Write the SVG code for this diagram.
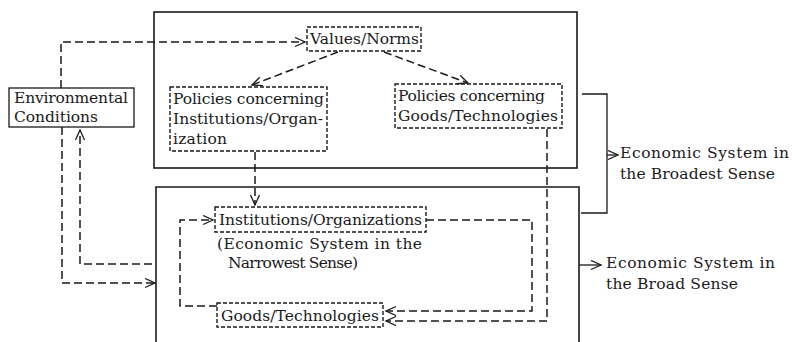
<svg xmlns="http://www.w3.org/2000/svg" width="792" height="342" viewBox="0 0 792 342">
  <style>
    text { font-family: "DejaVu Serif", "Liberation Serif", serif; font-size: 15.5px; fill: #1a1a1a; }
    .frame { fill: none; stroke: #1a1a1a; stroke-width: 1.6; }
    .solid { fill: none; stroke: #1a1a1a; stroke-width: 1.3; }
    .dbox { fill: none; stroke: #1a1a1a; stroke-width: 1.4; stroke-dasharray: 4 2; }
    .flow { fill: none; stroke: #1a1a1a; stroke-width: 1.5; stroke-dasharray: 8 4; }
  </style>
  <defs>
    <marker id="chev" markerUnits="userSpaceOnUse" markerWidth="14" markerHeight="12" refX="11" refY="5" orient="auto" viewBox="0 0 14 12">
      <path d="M1,0.5 L11,5 L1,9.5" fill="none" stroke="#1a1a1a" stroke-width="1.3"/>
    </marker>
  </defs>

  <!-- outer frames: broadest and broad economic system -->
  <g id="frame-broadest">
    <rect class="frame" x="154" y="12" width="423" height="156"/>
  </g>
  <g id="frame-broad">
    <path class="frame" d="M156,346 V187 H579 V346"/>
  </g>

  <!-- nodes -->
  <g id="environmental-conditions">
    <rect class="solid" x="9" y="88" width="125" height="39"/>
    <text x="14" y="103" textLength="114" lengthAdjust="spacing">Environmental</text>
    <text x="14" y="122" textLength="84" lengthAdjust="spacing">Conditions</text>
  </g>

  <g id="values-norms">
    <rect class="dbox" x="307" y="27" width="114" height="24"/>
    <text x="310" y="44" textLength="109" lengthAdjust="spacing">Values/Norms</text>
  </g>

  <g id="policies-institutions">
    <rect class="dbox" x="170" y="87" width="157" height="64"/>
    <text x="173" y="104" textLength="151" lengthAdjust="spacing">Policies concerning</text>
    <text x="173" y="124" textLength="150" lengthAdjust="spacing">Institutions/Organ-</text>
    <text x="173" y="144" textLength="54" lengthAdjust="spacing">ization</text>
  </g>

  <g id="policies-goods">
    <rect class="dbox" x="395" y="84" width="167" height="44"/>
    <text x="398" y="101" textLength="147" lengthAdjust="spacing">Policies concerning</text>
    <text x="398" y="121" textLength="160" lengthAdjust="spacing">Goods/Technologies</text>
  </g>

  <g id="institutions-organizations">
    <rect class="dbox" x="215" y="207" width="211" height="25"/>
    <text x="219" y="225" textLength="203" lengthAdjust="spacing">Institutions/Organizations</text>
    <text x="217" y="249" textLength="205" lengthAdjust="spacing">(Economic System in the</text>
    <text x="228" y="268" textLength="130" lengthAdjust="spacing">Narrowest Sense)</text>
  </g>

  <g id="goods-technologies">
    <rect class="dbox" x="217" y="303" width="166" height="24"/>
    <text x="221" y="321" textLength="158" lengthAdjust="spacing">Goods/Technologies</text>
  </g>

  <g id="label-broadest">
    <text x="620" y="158" textLength="169" lengthAdjust="spacing">Economic System in</text>
    <text x="620" y="179" textLength="155" lengthAdjust="spacing">the Broadest Sense</text>
  </g>

  <g id="label-broad">
    <text x="606" y="268" textLength="169" lengthAdjust="spacing">Economic System in</text>
    <text x="606" y="289" textLength="132" lengthAdjust="spacing">the Broad Sense</text>
  </g>

  <!-- connectors -->
  <g id="connectors">
    <!-- environment to values -->
    <path class="flow" d="M61,88 V42 H305" marker-end="url(#chev)"/>
    <!-- values to both policy fields -->
    <path class="flow" d="M338,52 L252,85" marker-end="url(#chev)"/>
    <path class="flow" d="M384,52 L468,83" marker-end="url(#chev)"/>
    <!-- institutional policy to institutions -->
    <path class="flow" d="M255,152 V205" marker-end="url(#chev)"/>
    <!-- goods policy to goods/technologies -->
    <path class="flow" d="M547,129 V321 H386" marker-end="url(#chev)"/>
    <!-- institutions to goods/technologies -->
    <path class="flow" d="M426,220 H532 V311 H386" marker-end="url(#chev)"/>
    <!-- goods/technologies back to institutions -->
    <path class="flow" d="M217,306 H180 V220 H213" marker-end="url(#chev)"/>
    <!-- environment into the broad system -->
    <path class="flow" d="M62,127 V283 H155" marker-end="url(#chev)"/>
    <!-- broad system back to environment -->
    <path class="flow" d="M152,264 H80 V130" marker-end="url(#chev)"/>
    <!-- bracket for the broadest sense -->
    <path class="solid" d="M582,94 H607 V213 H581"/>
    <path class="solid" d="M607,155 H618" marker-end="url(#chev)"/>
    <!-- pointer for the broad sense -->
    <path class="solid" d="M579,265 H601" marker-end="url(#chev)"/>
  </g>
</svg>
